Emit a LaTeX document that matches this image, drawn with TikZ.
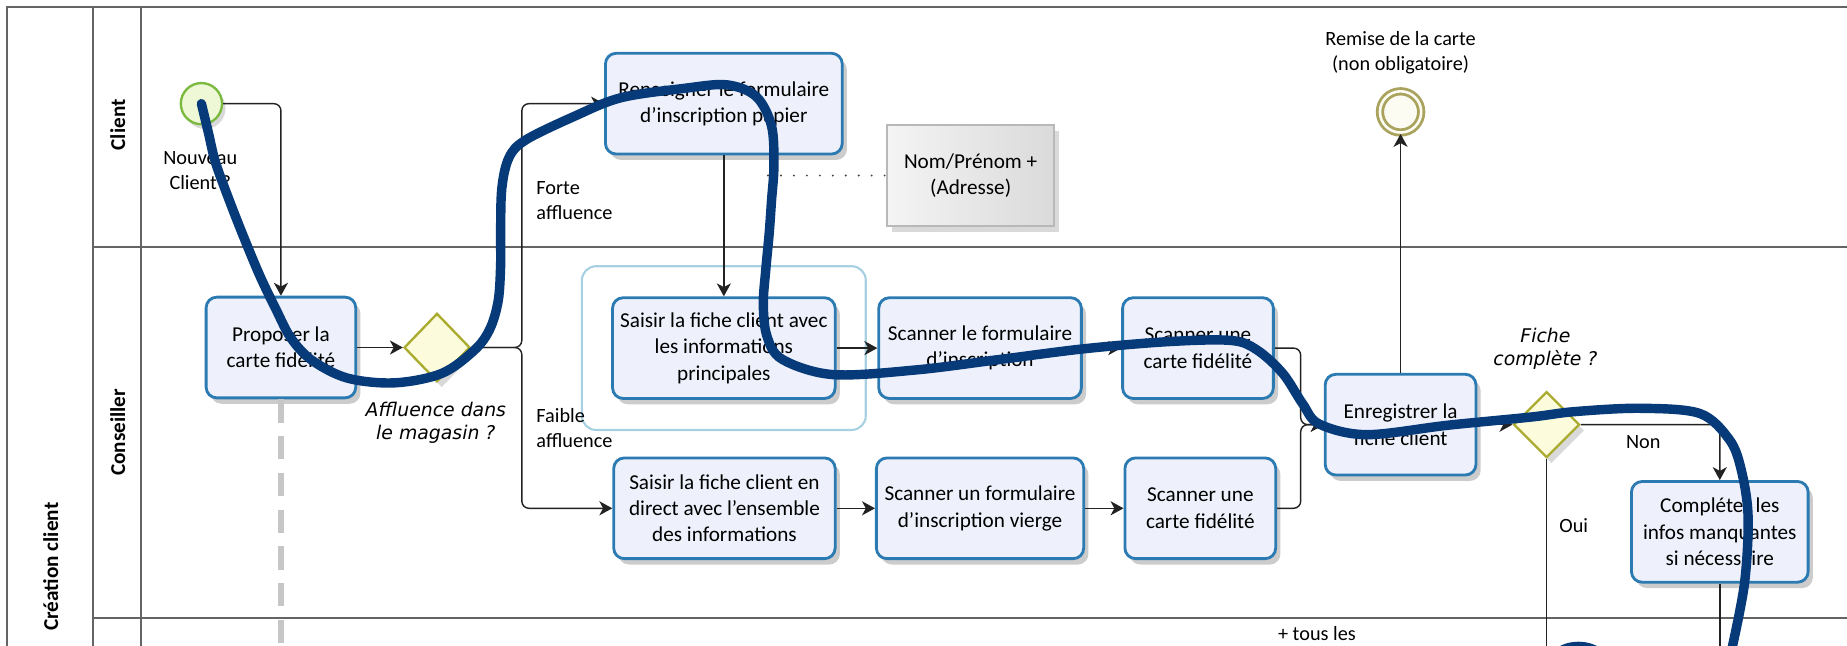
\documentclass[tikz,border=0pt]{standalone}
\usepackage{fontspec}
\setmainfont{Carlito}
\newfontfamily\obfont{DejaVu Sans}
\usetikzlibrary{shapes.geometric,arrows.meta,shadows}
\definecolor{taskblue}{HTML}{2B7BB2}
\definecolor{taskfill}{HTML}{EEF1FC}
\definecolor{gwline}{HTML}{ABAB30}
\definecolor{gwfill}{HTML}{FCFCDD}
\definecolor{startline}{HTML}{7BBA3F}
\definecolor{startfill}{HTML}{EFF8D6}
\definecolor{endline}{HTML}{A9A35E}
\definecolor{endfill}{HTML}{FDFCF3}
\definecolor{groupline}{HTML}{A8D0E3}
\definecolor{laneline}{HTML}{646464}
\definecolor{flowcol}{HTML}{222222}
\definecolor{scribble}{HTML}{063A78}
\definecolor{dataline}{HTML}{B8B8B8}
\definecolor{datalight}{HTML}{F4F4F4}
\definecolor{datadark}{HTML}{DADADA}
\definecolor{msggray}{HTML}{C6C6C6}
\begin{document}
\begin{tikzpicture}[x=0.5pt,y=-0.5pt,
  task/.style={draw=taskblue, line width=1.2pt, rounded corners=4.5pt, fill=taskfill,
    minimum height=42.75pt, inner sep=1pt, align=center,
    font=\fontsize{9}{11.2}\selectfont,
    drop shadow={shadow xshift=2pt, shadow yshift=-2.5pt, opacity=0.2, fill=black}},
  gw/.style={diamond, draw=gwline, line width=1pt, fill=gwfill, inner sep=0pt,
    minimum width=28pt, minimum height=29pt,
    drop shadow={shadow xshift=2pt, shadow yshift=-2.5pt, opacity=0.15, fill=black}},
  flowarrow/.style={draw=flowcol, line width=0.6pt, rounded corners=3pt,
    -{Stealth[length=5.5pt,width=6pt,inset=1.6pt]}},
  plainflow/.style={draw=flowcol, line width=0.6pt},
  assoc/.style={draw=flowcol!85, line width=0.9pt, line cap=round, dash pattern=on 0pt off 5.5pt},
  msg/.style={draw=msggray, line width=2.6pt, dash pattern=on 9.9pt off 5.7pt},
  lanelbl/.style={rotate=90, font=\bfseries\fontsize{9}{11}\selectfont, inner sep=0pt},
  lbl/.style={align=center, font=\fontsize{8.6}{10.6}\selectfont, inner sep=0pt},
  itlbl/.style={align=center, font=\obfont\itshape\fontsize{8}{9.6}\selectfont, inner sep=0pt},
  frameline/.style={draw=laneline, line width=0.8pt}
]
\useasboundingbox (0,0) rectangle (1568,548);
\begin{scope}
\clip (0,0) rectangle (1568,548);
% pool and lanes
\draw[frameline] (6,560) -- (6,6) -- (1580,6);
\draw[frameline] (79,6) -- (79,560);
\draw[frameline] (120,6) -- (120,560);
\draw[frameline] (79,209.5) -- (1580,209.5);
\draw[frameline] (79,524.7) -- (1580,524.7);
\node[lanelbl] (lclient) at (100,106) {Client};
\node[lanelbl] (lcons) at (100,367) {Conseiller};
\node[lanelbl] (lpool) at (43,481) {Création client};

% group
\node[draw=groupline, line width=0.9pt, rounded corners=6pt, minimum width=120.5pt, minimum height=69.5pt] (grp) at (614.5,295.5) {};

% events
\node[circle, draw=startline, line width=1pt, fill=startfill, minimum size=17.5pt, inner sep=0pt,
  drop shadow={shadow xshift=1.5pt, shadow yshift=-2pt, opacity=0.15, fill=black}] (start) at (171,88) {};
\node[lbl] (startlbl) at (170,145) {Nouveau\\Client ?};
\node[circle, draw=endline, line width=1.2pt, double=endfill, double distance=1.1pt, fill=endfill,
  minimum size=17.5pt, inner sep=0pt] (endev) at (1189,95) {};
\node[lbl] (endlbl) at (1189,44.5) {Remise de la carte\\(non obligatoire)};

% tasks
\node[task, minimum width=63.5pt] (prop) at (238.5,295) {Proposer la\\carte fidélité};
\node[gw] (gw1) at (371,295) {};
\node[itlbl] (gw1lbl) at (370,359) {Affluence dans\\le magasin ?};
\node[task, minimum width=100.5pt] (rens) at (614.5,88) {Renseigner le formulaire\\d'inscription papier};
\node[draw=dataline, line width=0.8pt, left color=datalight, right color=datadark,
  minimum width=71pt, minimum height=43pt, align=center, font=\fontsize{9}{11.2}\selectfont,
  drop shadow={shadow xshift=2pt, shadow yshift=-2.5pt, opacity=0.15, fill=black}] (data) at (824,149) {Nom/Prénom +\\(Adresse)};
\node[task, minimum width=94.5pt] (sais1) at (614.5,295.5) {Saisir la fiche client avec\\les informations\\principales};
\node[task, minimum width=86pt] (scan1) at (832,295.5) {Scanner le formulaire\\d'inscription};
\node[task, minimum width=64pt] (carte1) at (1017,295.5) {Scanner une\\carte fidélité};
\node[task, minimum width=94pt] (sais2) at (615,431.5) {Saisir la fiche client en\\direct avec l'ensemble\\des informations};
\node[task, minimum width=88pt] (scan2) at (832,431.5) {Scanner un formulaire\\d'inscription vierge};
\node[task, minimum width=64pt] (carte2) at (1019,431.5) {Scanner une\\carte fidélité};
\node[task, minimum width=64pt] (enr) at (1189,360.5) {Enregistrer la\\fiche client};
\node[gw, minimum height=28pt] (gw2) at (1313,360.5) {};
\node[itlbl] (gw2lbl) at (1312,296) {Fiche\\complète ?};
\node[task, minimum width=75pt] (compl) at (1460,451.5) {Compléter les\\infos manquantes\\si nécessaire};

% labels
\node[lbl, align=left, anchor=west] (forte) at (455,170) {Forte\\affluence};
\node[lbl, align=left, anchor=west] (faible) at (455,363) {Faible\\affluence};
\node[lbl] (non) at (1395,375) {Non};
\node[lbl] (oui) at (1336,446) {Oui};
\node[lbl] (tous) at (1118,538) {+ tous les};

% connectors
\coordinate (msgend) at (238.5,560);
\draw[msg] (prop.south) -- (msgend);
\draw[flowarrow] (start.east) -| (prop.north);
\draw[flowarrow] (prop.east) -- (gw1.west);
\draw[flowarrow] (gw1.east) -- ++(43,0) |- (rens.west);
\draw[flowarrow] (gw1.east) -- ++(43,0) |- (sais2.west);
\draw[flowarrow] (rens.south) -- (sais1.north);
\draw[flowarrow] (sais1.east) -- (scan1.west);
\draw[flowarrow] (scan1.east) -- (carte1.west);
\draw[flowarrow] (sais2.east) -- (scan2.west);
\draw[flowarrow] (scan2.east) -- (carte2.west);
\draw[flowarrow] (carte1.east) -- ++(22,0) |- (enr.west);
\draw[flowarrow] (carte2.east) -- ++(20,0) |- (enr.west);
\draw[flowarrow] (enr.north) -- (endev.south);
\draw[flowarrow] (enr.east) -- (gw2.west);
\draw[flowarrow] (gw2.east) -| (compl.north);
\coordinate (ouiend) at (1313,560);
\draw[plainflow] (gw2.south) -- (ouiend);
\coordinate (complend) at (1460,560);
\draw[plainflow] (compl.south) -- (complend);
\coordinate (assocend) at (652,149);
\draw[assoc] (assocend) -- (data.west);

% hand-drawn annotation
\draw[draw=scribble, line width=4pt, line cap=round, line join=round]
  plot[smooth, tension=0.55] coordinates {(171,88) (177,113) (183,138) (195,171) (208,204) (221,235)
  (234,262) (247,287) (265,306) (295,321) (335,325) (375,317) (403,297) (416,279) (423,255)
  (425,225) (425,198) (426,160) (432,134) (446,119) (487,99) (527,83) (581,75) (617,72)
  (642,82) (655,107) (657,141) (655,170) (653,198) (650,230) (648,258) (651,285) (664,305)
  (707,318) (778,314) (850,305) (921,296) (992,290) (1045,289) (1067,297) (1089,317)
  (1106,343) (1120,360) (1160,369) (1229,361) (1300,354) (1336,349.5) (1392,346.6)
  (1443,351) (1468,373) (1478,398) (1484,438) (1481,495) (1470,552)};
\draw[draw=scribble, line width=3.5pt] (1318,558) .. controls (1328,545) and (1352,545) .. (1362,558);
\end{scope}
\end{tikzpicture}
\end{document}
